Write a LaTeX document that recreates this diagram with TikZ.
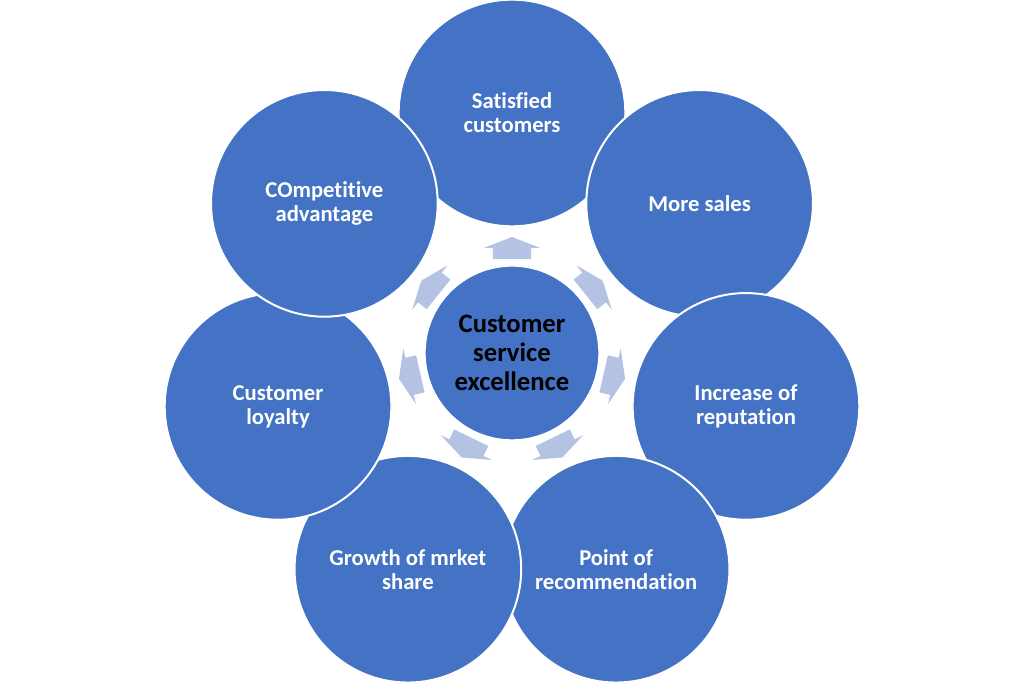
\documentclass[tikz,border=0pt]{standalone}
\usepackage{fontspec}
\setmainfont[Ligatures=NoCommon]{Carlito}
\definecolor{circblue}{HTML}{4472C4}
\definecolor{arrowblue}{HTML}{B4C3E4}
\begin{document}
\begin{tikzpicture}[x=0.75pt,y=0.75pt,
  outer/.style={circle,fill=circblue,draw=white,line width=1.5pt,minimum size=170pt,inner sep=0pt,text=white,font=\fontsize{17}{18}\selectfont\bfseries,align=center},
  centre/.style={circle,fill=circblue,draw=white,line width=1.5pt,minimum size=131pt,inner sep=0pt,text=black,font=\fontsize{20}{22}\selectfont\bfseries,align=center},
  arr/.style={fill=arrowblue}]
\useasboundingbox (-512,-331) rectangle (512,353);
\foreach \k in {0,...,6}{
  \fill[arr,rotate={90-\k*360/7}] (94,-19) -- (105,-19) -- (105,-28.5) -- (116,0) -- (105,28.5) -- (105,19) -- (94,19) -- cycle;
}
\node[centre] (c) at (0,0) {Customer\\service\\excellence};
\node[outer] (o1) at ({90}:240) {Satisfied\\customers};
\node[outer] (o2) at ({90-360/7}:240) {More sales};
\node[outer] (o3) at ({90-2*360/7}:240) {Increase of\\reputation};
\node[outer] (o4) at ({90-3*360/7}:240) {Point of\\recommendation};
\node[outer] (o5) at ({90-4*360/7}:240) {Growth of mrket\\share};
\node[outer] (o6) at ({90-5*360/7}:240) {Customer\\loyalty};
\node[outer] (o7) at ({90-6*360/7}:240) {COmpetitive\\advantage};
\end{tikzpicture}
\end{document}
